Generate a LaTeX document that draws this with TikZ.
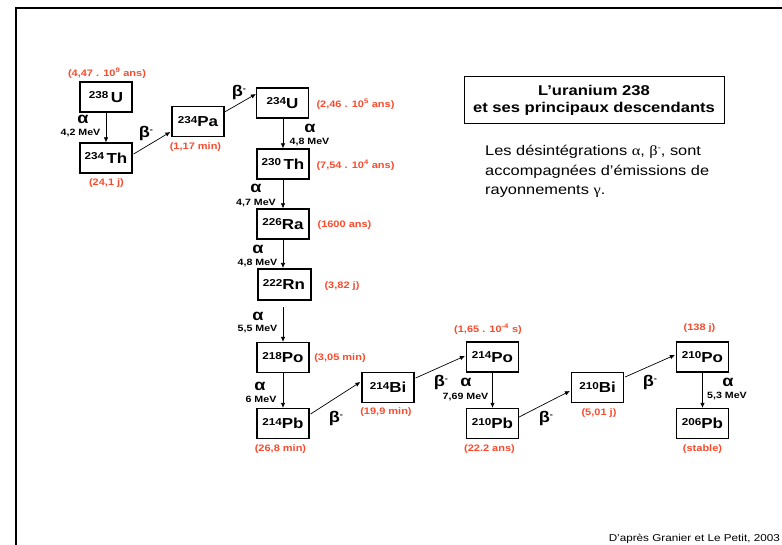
\documentclass[tikz,border=0pt]{standalone}
\usepackage{fontspec}
\setmainfont[FakeStretch=1.17]{Liberation Sans}
\newfontfamily\grk[FakeStretch=1.17]{Liberation Serif}
\usetikzlibrary{arrows.meta,calc}
\definecolor{labred}{RGB}{250,75,45}
\newcommand\iso[2]{{\fontsize{10}{10}\selectfont\raisebox{3.6pt}{#1}}{\fontsize{14.5}{16}\selectfont #2}}
\newcommand\betam{β\raisebox{5pt}{\fontsize{8}{8}\selectfont -}}
\begin{document}
\begin{tikzpicture}[x=1pt,y=-1pt,
 nuc/.style={draw,line width=1.2pt,minimum width=52pt,minimum height=30pt,inner sep=0pt,font=\bfseries},
 dec/.style={line width=0.7pt,-{Latex[length=5pt,width=4.5pt]}},
 hl/.style={text=labred,font={\bfseries\fontsize{9.4}{10}\selectfont},inner sep=0pt},
 en/.style={font={\bfseries\fontsize{9.1}{10}\selectfont},inner sep=0pt},
 gl/.style={font={\bfseries\fontsize{15.5}{15}\selectfont},inner sep=0pt}]
\useasboundingbox (0,0) rectangle (782,545);
\clip (0,0) rectangle (782,545);
\draw[line width=2.8pt] (16,8) rectangle (810,570);

% nuclides
\node[nuc] (U238) at (106,97) {\iso{238}{\,U}};
\node[nuc] (Th234) at (106,158) {\iso{234}{\,Th}};
\node[nuc] (Pa234) at (198,121.5) {\iso{234}{Pa}};
\node[nuc] (U234) at (282.5,103) {\iso{234}{U}};
\node[nuc] (Th230) at (283,164) {\iso{230}{\,Th}};
\node[nuc] (Ra226) at (283,224) {\iso{226}{Ra}};
\node[nuc,line width=2pt,minimum width=53pt,minimum height=31pt] (Rn222) at (284,284.5) {\iso{222}{Rn}};
\node[nuc] (Po218) at (283,357.5) {\iso{218}{Po}};
\node[nuc] (Pb214) at (283,423.5) {\iso{214}{Pb}};
\node[nuc] (Bi214) at (388,387.5) {\iso{214}{Bi}};
\node[nuc] (Po214) at (492.5,357) {\iso{214}{Po}};
\node[nuc] (Pb210) at (492.5,423.5) {\iso{210}{Pb}};
\node[nuc] (Bi210) at (597.5,387.5) {\iso{210}{Bi}};
\node[nuc] (Po210) at (702.5,357) {\iso{210}{Po}};
\node[nuc] (Pb206) at (702.5,423.5) {\iso{206}{Pb}};

% title and text
\node[draw,line width=1pt,minimum width=260pt,minimum height=47pt,inner sep=0pt,align=center,
  font={\bfseries\fontsize{14.2}{17}\selectfont}] (title) at (594,100.5)
  {L’uranium 238\\et ses principaux descendants};
\node[anchor=north west,align=left,inner sep=0pt,font={\fontsize{14}{19.5}\selectfont}] (txt) at (485,145)
  {Les désintégrations {\grk α}, {\grk β}\raisebox{5pt}{\fontsize{8}{8}\selectfont -}, sont\\
   accompagnées d’émissions de\\ rayonnements {\grk γ}.};
\node[anchor=east,inner sep=0pt,font={\fontsize{10}{12}\selectfont}] (src) at (780,539)
  {D'après Granier et Le Petit, 2003};

% decays
\draw[dec] (U238) -- (Th234);
\draw[dec] ($(Th234.east)+(1,-4)$) -- ($(Pa234.west)+(-1,10.5)$);
\draw[dec] ($(Pa234.east)+(0,-9.5)$) -- ($(U234.west)+(0,-9)$);
\draw[dec] (U234.south -| Th230.north) -- (Th230.north);
\draw[dec] (Th230) -- (Ra226);
\draw[dec] (Ra226.south) -- (Ra226.south |- Rn222.north);
\draw[dec,shorten <=6pt] (Rn222.south -| Po218.north) -- (Po218.north);
\draw[dec] (Po218) -- (Pb214);
\draw[dec] ($(Pb214.east)+(1,-9.5)$) -- ($(Bi214.west)+(-1,-5.5)$);
\draw[dec] ($(Bi214.east)+(1,-9.5)$) -- ($(Po214.west)+(-1,-1)$);
\draw[dec] (Po214) -- (Pb210);
\draw[dec] ($(Pb210.east)+(0,-6.5)$) -- ($(Bi210.west)+(-1,3.5)$);
\draw[dec] ($(Bi210.east)+(1,-10.5)$) -- ($(Po210.west)+(-1,-2)$);
\draw[dec] (Po210) -- (Pb206);

% half-lives
\node[hl] (h1) at (107,73) {(4,47 . 10\textsuperscript{9} ans)};
\node[hl] (h2) at (106.5,183) {(24,1 j)};
\node[hl] (h3) at (195.5,147) {(1,17 min)};
\node[hl] (h4) at (355.5,104) {(2,46 . 10\textsuperscript{5} ans)};
\node[hl] (h5) at (355.5,165) {(7,54 . 10\textsuperscript{4} ans)};
\node[hl] (h6) at (344.5,225.5) {(1600 ans)};
\node[hl] (h7) at (342,286) {(3,82 j)};
\node[hl] (h8) at (340,358.5) {(3,05 min)};
\node[hl] (h9) at (280.5,449) {(26,8 min)};
\node[hl] (h10) at (386,412) {(19,9 min)};
\node[hl] (h11) at (488,329) {(1,65 . 10\textsuperscript{-4} s)};
\node[hl] (h12) at (489.5,449) {(22.2 ans)};
\node[hl] (h13) at (599,413) {(5,01 j)};
\node[hl] (h14) at (699.5,328) {(138 j)};
\node[hl] (h15) at (702.5,449) {(stable)};

% alpha labels
\node[gl] (a1) at (83,119.5) {α};
\node[en] (e1) at (80.5,133) {4,2 MeV};
\node[gl] (a2) at (310,128) {α};
\node[en] (e2) at (309.5,142.5) {4,8 MeV};
\node[gl] (a3) at (256,188.5) {α};
\node[en] (e3) at (256,203) {4,7 MeV};
\node[gl] (a4) at (258,249) {α};
\node[en] (e4) at (257.5,263) {4,8 MeV};
\node[gl] (a5) at (258,316) {α};
\node[en] (e5) at (257.5,329) {5,5 MeV};
\node[gl] (a6) at (260,386) {α};
\node[en] (e6) at (261,399) {6 MeV};
\node[gl] (a7) at (466,382) {α};
\node[en] (e7) at (465.5,397) {7,69 MeV};
\node[gl] (a8) at (728,382) {α};
\node[en] (e8) at (727,396) {5,3 MeV};

% beta labels
\node[gl] (b1) at (146,133) {\betam};
\node[gl] (b2) at (239,92) {\betam};
\node[gl] (b3) at (336,418) {\betam};
\node[gl] (b4) at (441,382) {\betam};
\node[gl] (b5) at (546,418) {\betam};
\node[gl] (b6) at (650,382) {\betam};
\end{tikzpicture}
\end{document}
